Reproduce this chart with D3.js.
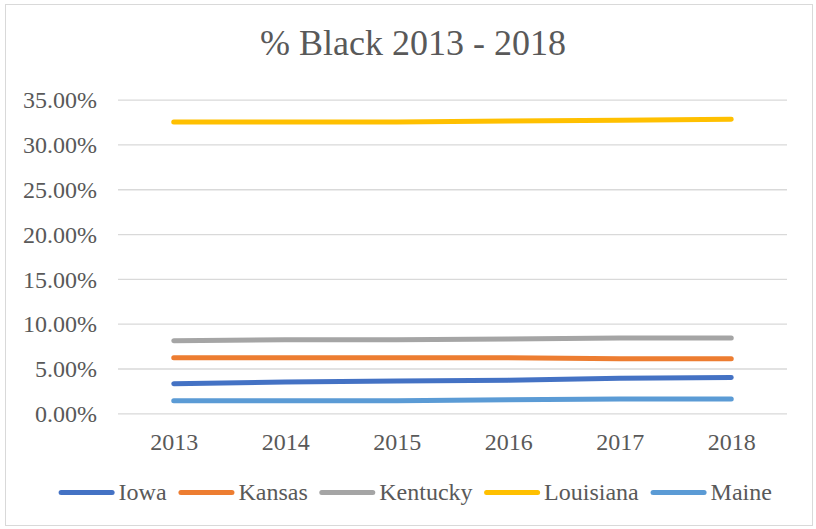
<!DOCTYPE html>
<html>
<head>
<meta charset="utf-8">
<script src="https://cdn.jsdelivr.net/npm/d3@7"></script>
<style>
  html, body { margin: 0; padding: 0; background: #fff; }
  svg { display: block; }
</style>
</head>
<body>
<svg id="chart" width="816" height="529"></svg>
<script>
const title = "% Black 2013 - 2018";
const years = ["2013", "2014", "2015", "2016", "2017", "2018"];
const seriesNames = ["Iowa", "Kansas", "Kentucky", "Louisiana", "Maine"];
const iowa      = [0.033, 0.035, 0.036, 0.037, 0.039, 0.040];
const kansas    = [0.062, 0.062, 0.062, 0.062, 0.061, 0.061];
const kentucky  = [0.081, 0.082, 0.082, 0.083, 0.084, 0.084];
const louisiana = [0.325, 0.325, 0.325, 0.326, 0.327, 0.328];
const maine     = [0.014, 0.014, 0.014, 0.015, 0.016, 0.016];
const yTicks = [0, 0.05, 0.10, 0.15, 0.20, 0.25, 0.30, 0.35];
const colors = ["#4472C4", "#ED7D31", "#A5A5A5", "#FFC000", "#5B9BD5"];

const FONT = "Liberation Serif, serif";
const TEXT_COLOR = "#595959";

const seriesValues = [iowa, kansas, kentucky, louisiana, maine];
const series = seriesNames.map((name, i) => ({ name, color: colors[i], values: seriesValues[i] }));

const svg = d3.select("#chart");

// chart border
svg.append("rect")
  .attr("x", 5.5).attr("y", 4.5).attr("width", 807).attr("height", 521)
  .attr("fill", "#fff").attr("stroke", "#D9D9D9").attr("stroke-width", 1);

const plot = { left: 118, right: 787, top: 99.6, bottom: 413.3 };

const x = d3.scalePoint().domain(years).range([plot.left, plot.right]).padding(0.5);
const y = d3.scaleLinear().domain([0, 0.35]).range([plot.bottom, plot.top]);

// title
svg.append("text")
  .attr("x", 413).attr("y", 55)
  .attr("text-anchor", "middle")
  .attr("fill", TEXT_COLOR)
  .style("font-family", FONT)
  .style("font-size", "36px")
  .text(title);

// y axis with gridlines
const yAxis = d3.axisLeft(y)
  .tickValues(yTicks)
  .tickFormat(d => (d * 100).toFixed(2) + "%")
  .tickSize(-(plot.right - plot.left))
  .tickPadding(21);

const gy = svg.append("g")
  .attr("transform", `translate(${plot.left},0)`)
  .call(yAxis)
  .attr("font-family", FONT);
gy.select(".domain").remove();
gy.selectAll(".tick line").attr("stroke", "#D9D9D9").attr("stroke-width", 1.3);
gy.selectAll(".tick text")
  .style("font-family", FONT)
  .style("font-size", "24px")
  .attr("fill", TEXT_COLOR)
  .attr("dy", "0.34em");

// x axis labels
const xAxis = d3.axisBottom(x).tickSize(0).tickPadding(20);
const gx = svg.append("g")
  .attr("transform", `translate(0,${plot.bottom})`)
  .call(xAxis)
  .attr("font-family", FONT);
gx.select(".domain").remove();
gx.selectAll(".tick text")
  .style("font-family", FONT)
  .style("font-size", "24px")
  .attr("fill", TEXT_COLOR);

// lines
const line = d3.line()
  .x((d, i) => x(years[i]))
  .y(d => y(d));

svg.append("g").selectAll("path")
  .data(series)
  .join("path")
  .attr("d", d => line(d.values))
  .attr("fill", "none")
  .attr("stroke", d => d.color)
  .attr("stroke-width", 5)
  .attr("stroke-linecap", "round")
  .attr("stroke-linejoin", "round");

// legend
const legendY = 492.5;
const lineLen = 51;
const gapAfterLine = 6;
const gapBetween = 14;
const legend = svg.append("g");
const items = legend.selectAll("g").data(series).join("g");
items.append("line")
  .attr("x1", 2.5).attr("x2", 2.5 + lineLen)
  .attr("y1", 0).attr("y2", 0)
  .attr("stroke", d => d.color)
  .attr("stroke-width", 5)
  .attr("stroke-linecap", "round");
items.append("text")
  .attr("x", 5 + lineLen + gapAfterLine - 2)
  .attr("y", 0)
  .attr("dy", "0.33em")
  .attr("fill", TEXT_COLOR)
  .style("font-family", FONT)
  .style("font-size", "24px")
  .text(d => d.name);

let widths = [];
items.each(function() { widths.push(this.getBBox().width); });
const total = d3.sum(widths) + gapBetween * (widths.length - 1);
let cx = 414 - total / 2;
items.attr("transform", (d, i) => {
  const t = `translate(${cx},${legendY})`;
  cx += widths[i] + gapBetween;
  return t;
});
</script>
</body>
</html>
